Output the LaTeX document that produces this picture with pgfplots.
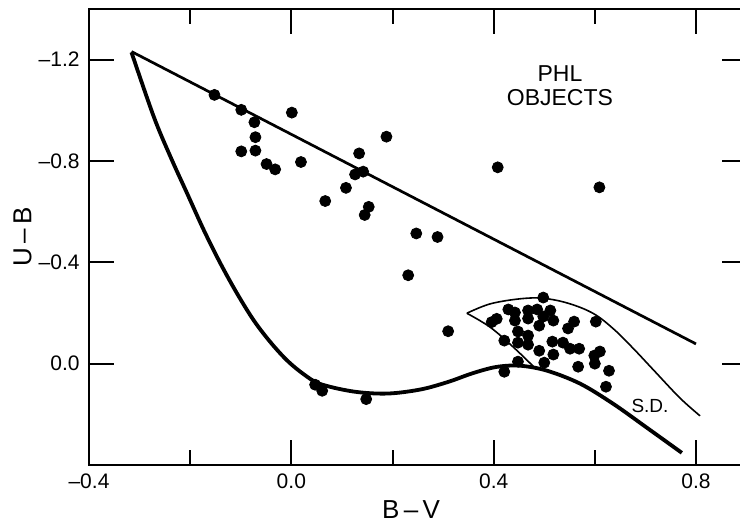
\documentclass[border=0pt]{standalone}
\usepackage{pgfplots}
\pgfplotsset{compat=1.18}
\usepackage{fontspec}
\setmainfont{Liberation Sans}
\begin{document}
\begin{tikzpicture}
\begin{axis}[name=ax, scale only axis, width=328.8pt, height=228pt,
  xmin=-0.4, xmax=0.9, ymin=-1.4, ymax=0.4, y dir=reverse,
  xtick={-0.4,0,0.4,0.8}, xticklabels={--0.4,0.0,0.4,0.8},
  minor xtick={-0.2,0.2,0.6},
  ytick={-1.2,-0.8,-0.4,0}, yticklabels={--1.2,--0.8,--0.4,0.0},
  major tick length=12.5pt, minor tick length=7.5pt,
  tick style={line width=1pt, black},
  axis line style={line width=1pt},
  tick align=inside,
  xticklabel style={font=\fontsize{10.5}{12}\selectfont, inner sep=0pt, yshift=-4pt},
  yticklabel style={font=\fontsize{10.5}{12}\selectfont, inner sep=0pt, xshift=-4.5pt},
  clip=false,
]
% upper straight line
\addplot[black, line width=1.35pt] coordinates {(-0.316,-1.232) (0.800,-0.078)};
% thick main-sequence curve
\addplot[black, line width=1.9pt, smooth, tension=0.55] coordinates {
(-0.316,-1.229) (-0.272,-0.975) (-0.239,-0.817) (-0.206,-0.672) (-0.173,-0.527)
(-0.140,-0.395) (-0.107,-0.276) (-0.074,-0.170) (-0.041,-0.084) (-0.008,-0.012)
(0.024,0.041) (0.057,0.080) (0.123,0.110) (0.189,0.118) (0.255,0.102)
(0.310,0.072) (0.358,0.038) (0.405,0.013) (0.452,0.008) (0.506,0.028)
(0.571,0.079) (0.636,0.158) (0.703,0.253) (0.772,0.352)};
% S.D. region thin lines
\addplot[black, line width=0.8pt, smooth, tension=0.6] coordinates {
(0.479,0.012) (0.439,-0.065) (0.393,-0.144) (0.347,-0.199)};
\addplot[black, line width=0.8pt, smooth, tension=0.6] coordinates {
(0.347,-0.199) (0.393,-0.236) (0.452,-0.256) (0.498,-0.258) (0.548,-0.238)
(0.597,-0.198) (0.637,-0.137) (0.676,-0.060) (0.716,0.025) (0.768,0.135) (0.808,0.206)};
% PHL objects
\addplot[only marks, mark=*, mark size=2.75pt, black] coordinates {
(-0.152,-1.061) (-0.099,-1.002) (-0.073,-0.953) (0.001,-0.991) (-0.071,-0.894)
(-0.099,-0.838) (-0.071,-0.841) (-0.049,-0.788) (-0.032,-0.767) (0.019,-0.796)
(0.188,-0.896) (0.134,-0.830) (0.126,-0.747) (0.142,-0.758) (0.108,-0.694)
(0.067,-0.642) (0.153,-0.619) (0.145,-0.587) (0.247,-0.514) (0.289,-0.500)
(0.231,-0.349) (0.310,-0.128) (0.408,-0.775) (0.609,-0.696)
(0.047,0.083) (0.061,0.107) (0.148,0.140)
(0.498,-0.261) (0.406,-0.177) (0.396,-0.164) (0.429,-0.214) (0.442,-0.202)
(0.442,-0.170) (0.468,-0.210) (0.486,-0.214) (0.512,-0.210) (0.468,-0.178)
(0.498,-0.186) (0.518,-0.170) (0.559,-0.166) (0.602,-0.166) (0.547,-0.139)
(0.490,-0.150) (0.448,-0.127) (0.468,-0.111) (0.421,-0.091) (0.448,-0.083)
(0.468,-0.075) (0.516,-0.087) (0.537,-0.083) (0.551,-0.059) (0.569,-0.059)
(0.490,-0.051) (0.518,-0.036) (0.599,-0.032) (0.610,-0.048) (0.600,0.000)
(0.628,0.028) (0.567,0.012) (0.500,-0.004) (0.448,-0.008) (0.421,0.032)
(0.622,0.091)};
\node[align=center, font=\fontsize{11.5}{12}\selectfont] at (axis cs:0.531,-1.097) {PHL\\OBJECTS};
\node[font=\fontsize{9.5}{11}\selectfont] at (axis cs:0.709,0.166) {S.D.};
\end{axis}
\node[anchor=north, inner sep=0pt, font=\fontsize{13}{15}\selectfont] at ([xshift=-3.4pt, yshift=-17.5pt]ax.south) {B\,--\,V};
\node[anchor=south, rotate=90, inner sep=0pt, font=\fontsize{13}{15}\selectfont] at ([xshift=-28.5pt]ax.west) {U\,--\,B};
\pgfresetboundingbox
\path[use as bounding box] ([xshift=-44.5pt, yshift=-29pt]ax.south west) rectangle ([xshift=-3.3pt, yshift=4.5pt]ax.north east);
\end{tikzpicture}
\end{document}
